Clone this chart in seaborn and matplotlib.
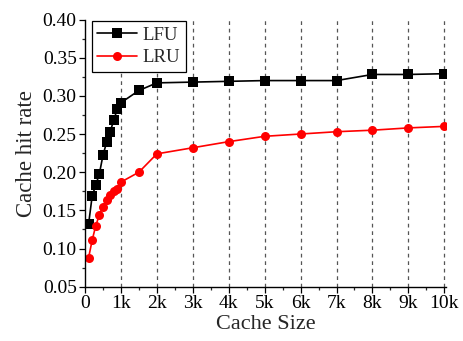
import matplotlib
matplotlib.use("Agg")
import matplotlib.pyplot as plt
from matplotlib.ticker import MultipleLocator, FixedLocator, FormatStrFormatter
import seaborn as sns
import pandas as pd

cache_size = [100, 200, 300, 400, 500, 600, 700, 800, 900, 1000, 1500,
              2000, 3000, 4000, 5000, 6000, 7000, 8000, 9000, 10000]
lfu = [0.132, 0.169, 0.183, 0.198, 0.222, 0.239, 0.253, 0.268, 0.283, 0.291,
       0.307, 0.317, 0.318, 0.319, 0.320, 0.320, 0.320, 0.328, 0.328, 0.329]
lru = [0.088, 0.111, 0.130, 0.144, 0.155, 0.163, 0.170, 0.175, 0.178, 0.187,
       0.200, 0.224, 0.232, 0.240, 0.247, 0.250, 0.253, 0.255, 0.258, 0.260]
x_ticks = [0, 1000, 2000, 3000, 4000, 5000, 6000, 7000, 8000, 9000, 10000]
x_tick_labels = ["0", "1k", "2k", "3k", "4k", "5k", "6k", "7k", "8k", "9k", "10k"]

df = pd.DataFrame({
    "size": cache_size * 2,
    "rate": lfu + lru,
    "policy": ["LFU"] * len(lfu) + ["LRU"] * len(lru),
})

sns.set_style("ticks")
plt.rcParams["font.family"] = ["Liberation Serif", "DejaVu Serif"]

fig = plt.figure(figsize=(4.63, 3.41), dpi=100)
ax_w = 446.1 - 85
ax_h = 286.7 - 19.5
ax = fig.add_axes([85 / 463, 1 - 286.7 / 341, ax_w / 463, ax_h / 341])

for xt in x_ticks[1:]:
    ax.axvline(xt, color="#555555", linestyle=(0, (3, 3)), linewidth=0.9, zorder=0)

sns.lineplot(data=df, x="size", y="rate", hue="policy", style="policy",
             markers={"LFU": "s", "LRU": "o"}, dashes=False,
             palette={"LFU": "black", "LRU": "#ff0000"},
             markersize=6.5, markeredgewidth=0, linewidth=1.2, ax=ax)

ax.set_xlim(0, 10050)
ax.set_ylim(0.05, 0.40)
ax.xaxis.set_major_locator(FixedLocator(x_ticks))
ax.set_xticklabels(x_tick_labels)
ax.xaxis.set_minor_locator(MultipleLocator(500))
ax.yaxis.set_major_locator(MultipleLocator(0.05))
ax.yaxis.set_minor_locator(MultipleLocator(0.025))
ax.yaxis.set_major_formatter(FormatStrFormatter("%.2f"))

ax.tick_params(axis="both", which="major", direction="out", length=4, width=0.9,
               labelsize=14, colors="black", pad=2)
ax.tick_params(axis="both", which="minor", direction="out", length=2.5, width=0.9)

for s in ["top", "right"]:
    ax.spines[s].set_visible(False)
for s in ["left", "bottom"]:
    ax.spines[s].set_linewidth(1.0)
    ax.spines[s].set_color("black")

ax.set_xlabel("Cache Size", fontsize=16, labelpad=2)
ax.set_ylabel("Cache hit rate", fontsize=16.5, labelpad=4)

leg = ax.legend(loc="upper left", bbox_to_anchor=(6.7 / ax_w, 1 - 1.5 / ax_h),
                fontsize=13.5, frameon=True, fancybox=False,
                edgecolor="black", framealpha=1, borderaxespad=0,
                handlelength=2.1, handletextpad=0.3, borderpad=0.3,
                labelspacing=0.3, title=None)
leg.get_frame().set_linewidth(0.9)
ax.set_facecolor("white")

fig.savefig("out.png", dpi=100)
